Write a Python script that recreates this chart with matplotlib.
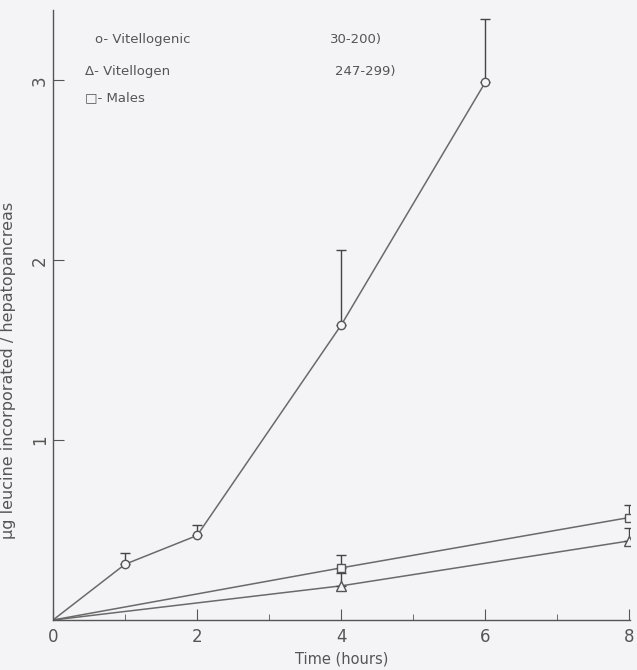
import matplotlib
matplotlib.use("Agg")
import matplotlib.pyplot as plt
from matplotlib.ticker import FixedLocator

# Data
t_circ = [0, 1, 2, 4, 6]
y_circ = [0, 0.31, 0.47, 1.64, 2.99]
e_circ = [0, 0.06, 0.06, 0.42, 0.35]

t_tri = [0, 4, 8]
y_tri = [0, 0.19, 0.44]
e_tri = [0, 0.07, 0.07]

t_sq = [0, 4, 8]
y_sq = [0, 0.29, 0.57]
e_sq = [0, 0.07, 0.07]

x_ticks = [0, 2, 4, 6, 8]
x_minor = [1, 3, 5, 7]
y_ticks = [1, 2, 3]

bg = "#f4f4f6"
lc = "#6a6a6a"

fig = plt.figure(figsize=(6.37, 6.70), dpi=100, facecolor=bg)
ax = fig.add_axes([0.0832, 0.0746, 0.906, 0.91], facecolor=bg)

def series(t, y, e, marker, ms):
    ax.plot(t, y, color=lc, lw=1.1, zorder=2)
    ax.errorbar(t[1:], y[1:], yerr=[[0]*len(e[1:]), e[1:]], fmt='none',
                ecolor="#444444", elinewidth=1.0, capsize=3.5, capthick=1.0, zorder=3)
    ax.plot(t[1:], y[1:], linestyle='none', marker=marker, ms=ms,
            mfc=bg, mec="#555555", mew=1.0, zorder=4)

series(t_circ, y_circ, e_circ, 'o', 6)
series(t_tri, y_tri, e_tri, '^', 7)
series(t_sq, y_sq, e_sq, 's', 6)

ax.set_xlim(0, 8.01)
ax.set_ylim(0, 3.39)
for s in ['top', 'right']:
    ax.spines[s].set_visible(False)
for s in ['left', 'bottom']:
    ax.spines[s].set_color("#555555")
    ax.spines[s].set_linewidth(1.0)

ax.xaxis.set_major_locator(FixedLocator(x_ticks))
ax.xaxis.set_minor_locator(FixedLocator(x_minor))
ax.yaxis.set_major_locator(FixedLocator(y_ticks))
ax.tick_params(axis='x', which='major', direction='in', length=8, color="#555555",
               labelsize=12, labelcolor="#555555", pad=6)
ax.tick_params(axis='x', which='minor', direction='in', length=4, color="#555555")
ax.tick_params(axis='y', which='major', direction='in', length=8, color="#555555",
               labelsize=12, labelcolor="#555555", labelrotation=90, pad=3)
ax.set_xticklabels([str(v) for v in x_ticks])
ax.set_yticklabels([str(v) for v in y_ticks], va='center')

ax.set_xlabel("Time (hours)", fontsize=10.5, color="#555555", labelpad=4)
ax.set_ylabel("μg leucine incorporated / hepatopancreas", fontsize=11.5,
              color="#555555")
ax.yaxis.set_label_coords(-0.064, 0.41)

tc = "#555555"
fig.text(95/637, 1 - 40/670, "o- Vitellogenic", fontsize=9.5, color=tc, va='center')
fig.text(330/637, 1 - 40/670, "30-200)", fontsize=9.5, color=tc, va='center')
fig.text(85/637, 1 - 72/670, "Δ- Vitellogen", fontsize=9.5, color=tc, va='center')
fig.text(335/637, 1 - 72/670, "247-299)", fontsize=9.5, color=tc, va='center')
fig.text(85/637, 1 - 98/670, "□- Males", fontsize=9.5, color=tc, va='center')

fig.savefig("out.png", dpi=100, facecolor=bg)
